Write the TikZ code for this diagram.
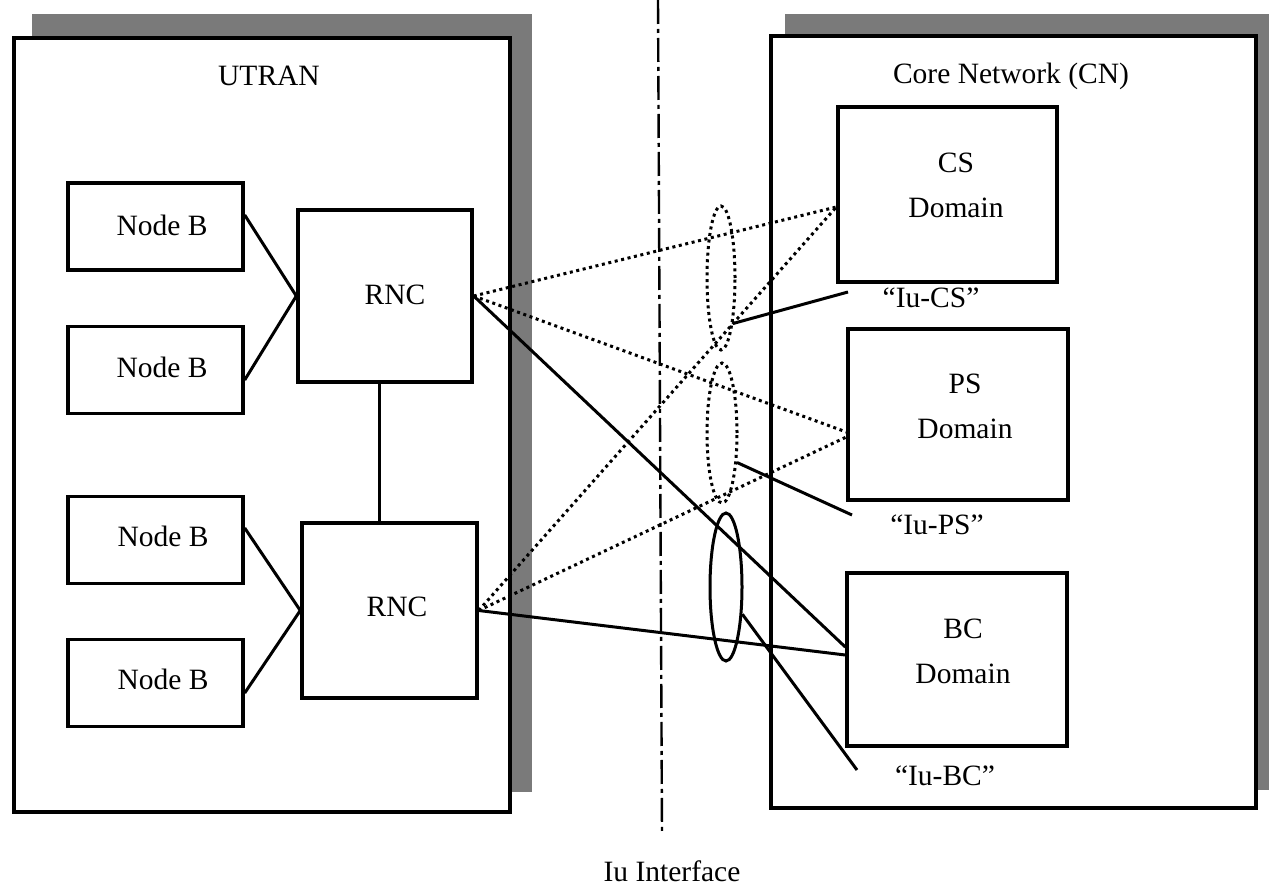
\documentclass[tikz,border=0pt]{standalone}
\usepackage{fontspec}
\setmainfont{Liberation Serif}
\usetikzlibrary{calc,shapes.geometric,backgrounds}
\begin{document}
\begin{tikzpicture}[x=1pt,y=-1pt,
  txt/.style={font=\fontsize{29.5}{45}\selectfont, align=center, inner sep=0pt},
  frame/.style={draw, line width=3.4pt, fill=white, inner sep=0pt},
  box/.style={draw, line width=3.4pt, fill=white, inner sep=0pt},
  shade/.style={fill=black!52},
  link/.style={line width=3pt},
  dots/.style={line width=3pt, dash pattern=on 3pt off 3.6pt},
  oval/.style={draw, ellipse, inner sep=0pt},
  iuline/.style={line width=2.4pt, dash pattern=on 24pt off 5pt on 4pt off 5pt}
]
\useasboundingbox (0,0) rectangle (1269,893);

% --- outer domains ---
\node[frame, minimum width=496, minimum height=774] (utran) at (262,425) {};
\node[frame, minimum width=485, minimum height=772] (cn) at (1013.5,422) {};
\begin{scope}[on background layer]
  \fill[shade] ($(utran.south west)+(20,-22)$) rectangle ($(utran.north east)+(20,-22)$);
  \fill[shade] ($(cn.south west)+(16,-20)$) rectangle ($(cn.north east)+(16,-20)$);
\end{scope}
\node[txt] (utrantxt) at (269,76) {UTRAN};
\node[txt] (cntxt) at (1011,76) {Core Network (CN)};

% --- Iu interface boundary ---
\coordinate (iutop) at (658,0);
\coordinate (iubot) at (662,833);
\draw[iuline] (iutop) -- (iubot);
\node[txt] (iutxt) at (672,871) {Iu Interface};

% --- UTRAN elements ---
\node[box, minimum width=175, minimum height=87] (nb1) at (155.5,226.5) {};
\node[box, minimum width=175, minimum height=87] (nb2) at (155.5,370) {};
\node[box, minimum width=175, minimum height=87] (nb3) at (155.5,540) {};
\node[box, minimum width=175, minimum height=87] (nb4) at (155.5,683) {};
\node[txt] (nb1t) at (162,225) {Node B};
\node[txt] (nb2t) at (162,367) {Node B};
\node[txt] (nb3t) at (163,536) {Node B};
\node[txt] (nb4t) at (163,679) {Node B};

\node[box, minimum width=174, minimum height=172] (rnc1) at (385,296) {};
\node[box, minimum width=175, minimum height=175] (rnc2) at (389.5,610.5) {};
\node[txt] (rnc1t) at (395,295) {RNC};
\node[txt] (rnc2t) at (397,607) {RNC};

\draw[link] ($(nb1.east)+(0,-11.5)$) -- (rnc1.west);
\draw[link] ($(nb2.east)+(0,10)$) -- (rnc1.west);
\draw[link] ($(nb3.east)+(0,-12)$) -- (rnc2.west);
\draw[link] ($(nb4.east)+(0,10)$) -- (rnc2.west);
\coordinate (lk) at (379,0);
\draw[link] (rnc1.south -| lk) -- (rnc2.north -| lk);

% --- core network domains ---
\node[box, minimum width=219, minimum height=175] (cs) at (947.5,194.5) {};
\node[box, minimum width=220, minimum height=171] (ps) at (958,414.5) {};
\node[box, minimum width=220, minimum height=173] (bc) at (957,659.5) {};
\node[txt] (cst) at (956,185) {CS\\Domain};
\node[txt] (pst) at (965,406) {PS\\Domain};
\node[txt] (bct) at (963,651) {BC\\Domain};

% --- Iu connections ---
\coordinate (csin) at ($(cs.west)+(0,12.5)$);
\coordinate (psin1) at ($(ps.west)+(0,17.5)$);
\coordinate (psin2) at ($(ps.west)+(0,22.5)$);
\coordinate (bcin1) at ($(bc.west)+(0,-12.5)$);
\coordinate (bcin2) at ($(bc.west)+(0,-4.5)$);

\draw[dots] (rnc1.east) -- (csin);
\draw[dots] (rnc1.east) -- (psin1);
\draw[link] (rnc1.east) -- (bcin1);
\draw[dots] (rnc2.east) -- (csin);
\draw[dots] (rnc2.east) -- (psin2);
\draw[link] (rnc2.east) -- (bcin2);

% --- bundles of Iu links ---
\node[oval, dots, minimum width=28, minimum height=144] (e1) at (721,278) {};
\node[oval, dots, minimum width=30, minimum height=140] (e2) at (722,433) {};
\node[oval, link, minimum width=32, minimum height=148] (e3) at (726,587) {};

\coordinate (tcs) at (848,292);
\coordinate (tps) at (852,515);
\coordinate (tbc) at (857,770);
\draw[link] (e1.-75) -- (tcs);
\draw[link] (e2.-63) -- (tps);
\draw[link] (e3.-59) -- (tbc);
\node[txt] (iucs) at (931,298) {“Iu-CS”};
\node[txt] (iups) at (937,525) {“Iu-PS”};
\node[txt] (iubc) at (945,776) {“Iu-BC”};
\end{tikzpicture}
\end{document}
